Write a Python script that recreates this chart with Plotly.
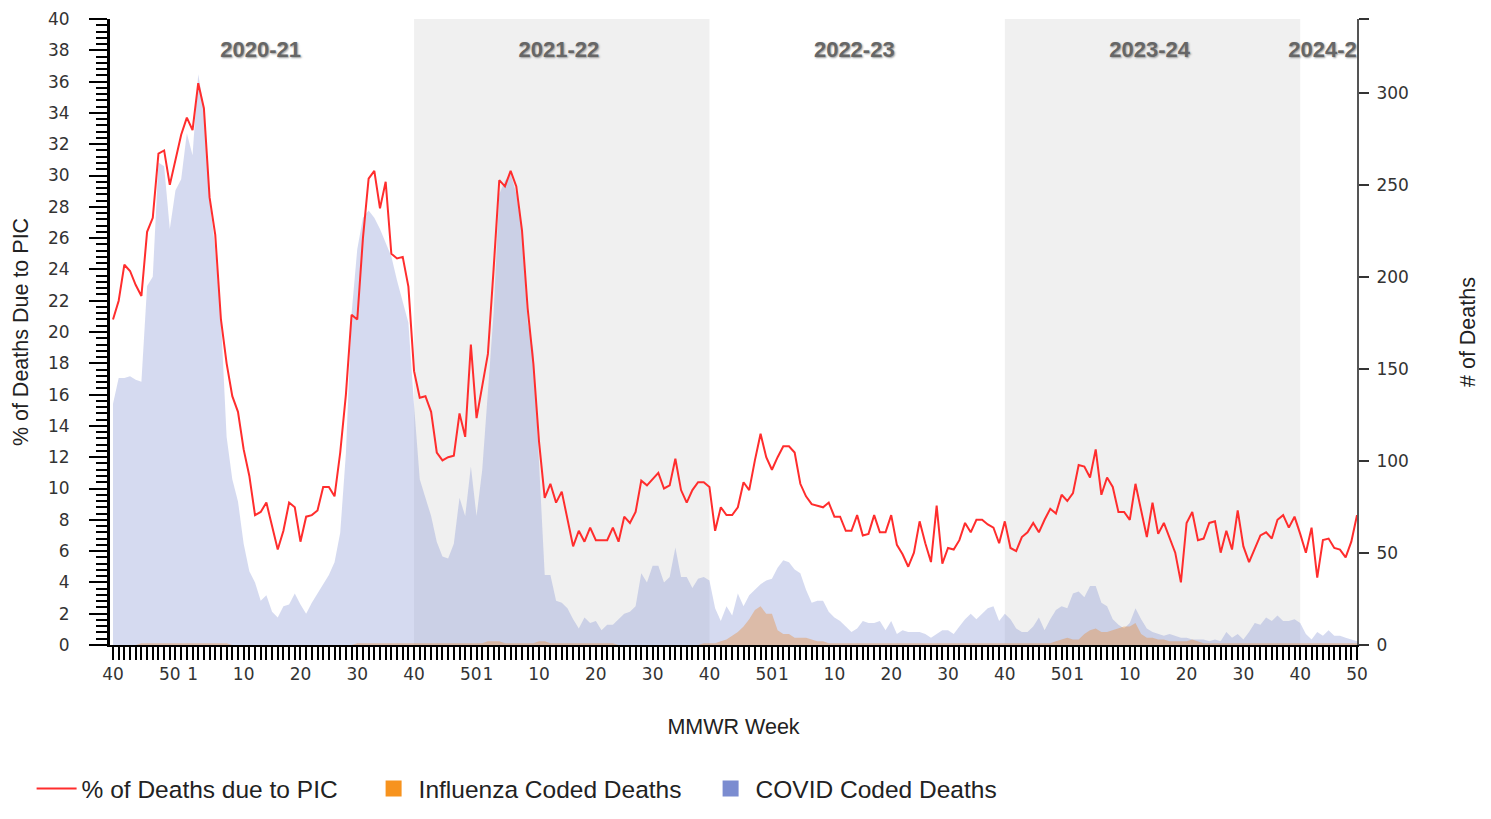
import plotly.graph_objects as go

seasons = ["2020-21", "2021-22", "2022-23", "2023-24", "2024-25"]
season_len = [53, 52, 52, 52, 11]  # weeks shown per season, each season starts at MMWR week 40

# % of deaths due to PIC, one list per season
pic_2020 = [20.8, 22.0, 24.3, 23.9, 23.0, 22.3, 26.4, 27.3, 31.4, 31.6,
            29.4, 31.0, 32.6, 33.7, 32.9, 35.9, 34.3, 28.6, 26.2, 20.8,
            18.0, 15.9, 14.9, 12.5, 10.8, 8.3, 8.5, 9.1, 7.6, 6.1,
            7.3, 9.1, 8.8, 6.6, 8.2, 8.3, 8.6, 10.1, 10.1, 9.5,
            12.3, 16.0, 21.1, 20.8, 26.0, 29.8, 30.3, 27.9, 29.6, 25.0,
            24.7, 24.8, 22.9]
pic_2021 = [17.5, 15.8, 15.9, 14.9, 12.3, 11.8, 12.0, 12.1, 14.8, 13.3,
            19.2, 14.5, 16.5, 18.6, 24.0, 29.7, 29.3, 30.3, 29.3, 26.5,
            21.5, 18.0, 13.0, 9.4, 10.3, 9.1, 9.8, 8.0, 6.3, 7.3,
            6.6, 7.5, 6.7, 6.7, 6.7, 7.5, 6.6, 8.2, 7.8, 8.5,
            10.5, 10.2, 10.6, 11.0, 10.0, 10.2, 11.9, 9.9, 9.1, 9.9,
            10.4, 10.4]
pic_2022 = [10.1, 7.3, 8.8, 8.3, 8.3, 8.8, 10.4, 9.9, 11.8, 13.5,
            12.0, 11.2, 12.0, 12.7, 12.7, 12.3, 10.3, 9.5, 9.0, 8.9,
            8.8, 9.1, 8.2, 8.2, 7.3, 7.3, 8.3, 7.0, 7.1, 8.3,
            7.2, 7.2, 8.3, 6.4, 5.8, 5.0, 5.9, 7.9, 6.5, 5.3,
            8.9, 5.2, 6.2, 6.1, 6.7, 7.8, 7.2, 8.0, 8.0, 7.7,
            7.5, 6.5]
pic_2023 = [7.9, 6.2, 6.0, 6.9, 7.2, 7.8, 7.2, 8.0, 8.7, 8.4,
            9.6, 9.2, 9.7, 11.5, 11.4, 10.7, 12.5, 9.6, 10.7, 10.1,
            8.5, 8.5, 8.0, 10.3, 8.6, 6.9, 9.1, 7.1, 7.8, 6.9,
            5.9, 4.0, 7.8, 8.5, 6.7, 6.8, 7.8, 7.9, 5.9, 7.3,
            6.1, 8.6, 6.3, 5.3, 6.1, 7.0, 7.2, 6.8, 8.0, 8.3,
            7.5, 8.2]
pic_2024 = [7.1, 5.9, 7.5, 4.3, 6.7, 6.8, 6.2, 6.1, 5.6, 6.6, 8.3]

# COVID coded deaths
covid_2020 = [131, 145, 145, 146, 144, 143, 195, 200, 262, 260,
              226, 247, 253, 278, 266, 310, 292, 242, 215, 177,
              113, 90, 78, 55, 40, 34, 24, 27, 18, 15,
              21, 22, 28, 22, 17, 23, 28, 33, 38, 45,
              61, 104, 180, 215, 232, 236, 232, 226, 218, 211,
              198, 186, 175]
covid_2021 = [130, 90, 80, 70, 56, 48, 47, 55, 80, 70,
              97, 70, 95, 135, 180, 245, 252, 256, 245, 225,
              175, 160, 95, 38, 38, 24, 23, 20, 14, 9,
              15, 12, 13, 8, 11, 11, 14, 17, 18, 21,
              39, 34, 43, 43, 34, 37, 53, 37, 37, 31,
              36, 37]
covid_2022 = [35, 20, 13, 21, 16, 28, 21, 27, 30, 33,
              35, 36, 42, 46, 45, 41, 39, 30, 23, 24,
              24, 18, 15, 13, 10, 7, 9, 13, 12, 12,
              13, 8, 13, 6, 8, 7, 7, 7, 6, 4,
              6, 8, 8, 6, 10, 14, 17, 14, 17, 20,
              21, 13]
covid_2023 = [17, 14, 9, 7, 7, 10, 15, 8, 14, 19,
              21, 20, 28, 29, 26, 32, 32, 23, 21, 14,
              11, 9, 12, 20, 14, 9, 7, 6, 5, 6,
              5, 4, 4, 3, 3, 3, 2, 3, 2, 7,
              4, 6, 3, 7, 12, 11, 15, 13, 16, 13,
              13, 14]
covid_2024 = [12, 6, 3, 7, 5, 8, 5, 5, 4, 3, 2]

# Influenza coded deaths
flu_2020 = [0, 0, 0, 0, 0, 1, 1, 1, 1, 1,
            1, 1, 1, 1, 1, 1, 1, 1, 1, 1,
            1, 0, 0, 0, 0, 0, 0, 0, 0, 0,
            0, 0, 0, 0, 0, 0, 0, 0, 0, 0,
            0, 0, 0, 1, 1, 1, 1, 1, 1, 1,
            1, 1, 1]
flu_2021 = [1, 1, 1, 1, 1, 1, 1, 1, 1, 1,
            1, 1, 1, 2, 2, 2, 1, 1, 1, 1,
            1, 1, 2, 2, 1, 1, 1, 1, 1, 1,
            1, 1, 1, 1, 1, 1, 0, 0, 0, 0,
            0, 0, 0, 0, 0, 0, 0, 0, 0, 0,
            0, 1]
flu_2022 = [1, 1, 2, 3, 5, 7, 10, 14, 19, 21,
            17, 17, 8, 6, 6, 4, 4, 4, 3, 2,
            2, 1, 1, 1, 1, 1, 1, 1, 1, 1,
            1, 1, 1, 1, 1, 1, 1, 1, 1, 1,
            1, 1, 1, 1, 1, 1, 1, 1, 1, 1,
            1, 1]
flu_2023 = [1, 1, 1, 1, 1, 1, 1, 1, 1, 2,
            3, 4, 3, 3, 6, 8, 9, 7, 7, 8,
            9, 10, 10, 12, 6, 4, 4, 3, 3, 2,
            2, 2, 2, 3, 2, 1, 1, 1, 1, 1,
            1, 1, 1, 1, 1, 1, 1, 1, 1, 1,
            1, 1]
flu_2024 = [1, 1, 1, 1, 1, 1, 1, 1, 1, 1, 1]

pic = pic_2020 + pic_2021 + pic_2022 + pic_2023 + pic_2024
covid = covid_2020 + covid_2021 + covid_2022 + covid_2023 + covid_2024
flu = flu_2020 + flu_2021 + flu_2022 + flu_2023 + flu_2024

# MMWR week numbers along the axis
weeks = []
for n in season_len:
    last = 53 if n == 53 else 52
    wk = list(range(40, last + 1)) + list(range(1, 40))
    weeks += wk[:n]
x = list(range(len(weeks)))
tick_text = [str(w) if w in (1, 10, 20, 30, 40, 50) else "" for w in weeks]

starts = [sum(season_len[:i]) for i in range(len(season_len))]
ends = [s + n - 1 for s, n in zip(starts, season_len)]
label_x = [(s + e) / 2 for s, e in zip(starts, ends)]

TICK_FONT = dict(family="DejaVu Sans", size=17, color="#333333")
TITLE_FONT = dict(family="Liberation Sans", size=21.5, color="#222222")
FLU_COLOR = "#f7931e"
COVID_COLOR = "#7b8cd0"

fig = go.Figure()

fig.add_trace(go.Scatter(
    x=x, y=covid, yaxis="y", mode="lines", fill="tozeroy",
    line=dict(width=0, color=COVID_COLOR),
    fillcolor="rgba(123,140,207,0.32)",
    name="COVID Coded Deaths", legendgroup="covid", showlegend=False,
))
fig.add_trace(go.Scatter(
    x=x, y=flu, yaxis="y", mode="lines", fill="tozeroy",
    line=dict(width=0, color=FLU_COLOR),
    fillcolor="rgba(230,140,60,0.4)",
    name="Influenza Coded Deaths", legendgroup="flu", showlegend=False,
))
fig.add_trace(go.Scatter(
    x=x, y=pic, yaxis="y2", mode="lines",
    line=dict(width=2, color="#ff2d2d"),
    name="% of Deaths due to PIC", legendrank=1,
))
# solid legend swatches for the two area series
fig.add_trace(go.Scatter(
    x=[None], y=[None], yaxis="y", mode="markers",
    marker=dict(symbol="square", size=16, color=FLU_COLOR),
    name="Influenza Coded Deaths", legendgroup="flu", legendrank=2,
))
fig.add_trace(go.Scatter(
    x=[None], y=[None], yaxis="y", mode="markers",
    marker=dict(symbol="square", size=16, color=COVID_COLOR),
    name="COVID Coded Deaths", legendgroup="covid", legendrank=3,
))
fig.add_trace(go.Scatter(
    x=label_x, y=[37.9] * len(seasons), yaxis="y2", mode="text",
    text=seasons, showlegend=False, cliponaxis=True, hoverinfo="skip",
    textfont=dict(family="Liberation Sans", size=22, color="#666666",
                  weight="bold", shadow="1px 1px 2px #999999"),
))

# alternating season bands
for s, e in zip(starts[1::2], ends[1::2]):
    fig.add_shape(type="rect", xref="x", yref="paper", x0=s, x1=e + 1,
                  y0=0, y1=1, fillcolor="#f0f0f0", line_width=0, layer="below")

fig.update_layout(
    width=1475, height=803,
    margin=dict(l=102, r=126, t=11, b=166),
    paper_bgcolor="white", plot_bgcolor="white",
    showlegend=True,
    legend=dict(orientation="h", xref="container", x=0.016, xanchor="left",
                yref="container", y=0.0, yanchor="bottom",
                font=dict(family="Liberation Sans", size=24.5, color="#222222"),
                entrywidth=282, traceorder="normal", itemwidth=40),
    xaxis=dict(
        range=[-0.53, 219], tickmode="array", tickvals=x, ticktext=tick_text,
        tickangle=0, ticks="outside", ticklen=13, tickwidth=2, tickcolor="black",
        showline=True, linecolor="black", linewidth=2, showgrid=False, zeroline=False,
        tickfont=TICK_FONT, automargin=False,
        title=dict(text="MMWR Week", font=TITLE_FONT, standoff=36),
    ),
    yaxis=dict(
        side="right", range=[0, 340], tickmode="array",
        tickvals=[0, 50, 100, 150, 200, 250, 300, 340],
        ticktext=["0", "50", "100", "150", "200", "250", "300", ""],
        ticks="outside", ticklen=10, tickwidth=2, tickcolor="#333333",
        showline=True, linecolor="#555555", linewidth=2, showgrid=False, zeroline=False,
        tickfont=TICK_FONT, ticklabelstandoff=4, automargin=False,
        title=dict(text="# of Deaths", font=TITLE_FONT, standoff=52),
    ),
    yaxis2=dict(
        overlaying="y", side="left", range=[0, 40], dtick=2,
        ticks="outside", ticklen=18, tickwidth=2, tickcolor="black",
        minor=dict(dtick=0.4, ticks="outside", ticklen=11, tickwidth=2, tickcolor="black"),
        showline=True, linecolor="black", linewidth=3, showgrid=False, zeroline=False,
        tickfont=TICK_FONT, ticklabelstandoff=16, automargin=False,
        title=dict(text="% of Deaths Due to PIC", font=TITLE_FONT, standoff=14),
    ),
)

fig.write_html("out.html")
